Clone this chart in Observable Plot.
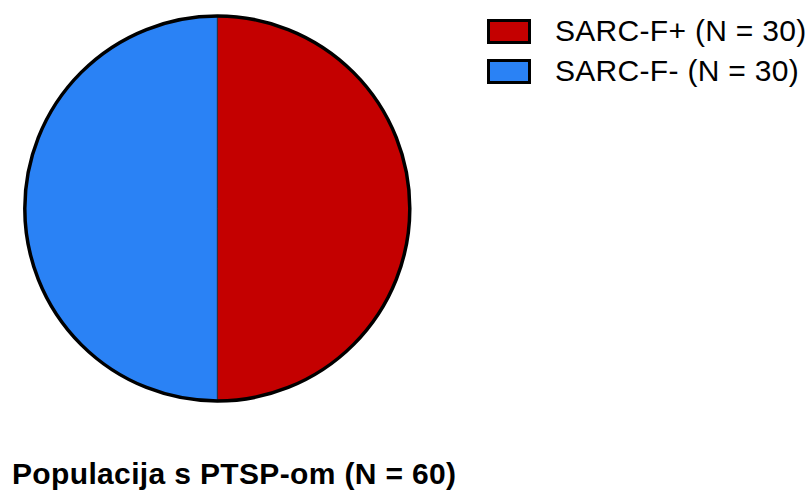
<!DOCTYPE html>
<html>
<head>
<meta charset="utf-8">
<script src="https://cdn.jsdelivr.net/npm/d3@7"></script>
<script src="https://cdn.jsdelivr.net/npm/@observablehq/plot@0.6"></script>
<style>
  html, body { margin: 0; padding: 0; background: #fff; }
  #wrap { position: relative; width: 811px; height: 493px; overflow: hidden; font-family: "Liberation Sans", Arial, sans-serif; }
  #chart { position: absolute; left: 0; top: 0; }
  .leg { position: absolute; left: 487px; height: 40px; }
  .sw { position: absolute; left: 0; top: 3px; width: 38px; height: 19px; border: 3px solid #000; }
  .lab { position: absolute; left: 68px; top: 0; font-size: 30px; line-height: 30px; letter-spacing: 0.3px; white-space: nowrap; color: #000; }
  #title { position: absolute; left: 12px; top: 458.5px; font-size: 30px; line-height: 30px; font-weight: bold; letter-spacing: 0.35px; white-space: nowrap; color: #000; }
</style>
</head>
<body>
<div id="wrap">
  <div id="chart"></div>
  <div id="legend"></div>
  <div id="title"></div>
</div>
<script>
const categories = ["SARC-F+ (N = 30)", "SARC-F- (N = 30)"];
const counts = [30, 30];
const colors = ["#C40000", "#2A82F5"];
const titleText = "Populacija s PTSP-om (N = 60)";

const data = categories.map((c, i) => ({category: c, count: counts[i]}));

// layout constants
const W = 811, H = 430;
const cx = 217.3, cy = 208.5, R = 192.5;

function pieMark(index, scales, values, dimensions, context) {
  const pie = d3.pie().sort(null).startAngle(0).endAngle(2 * Math.PI).value(d => d.count);
  const arcs = pie(data);
  const arc = d3.arc().innerRadius(0).outerRadius(R);
  const g = d3.create("svg:g").attr("transform", `translate(${cx},${cy})`);
  g.selectAll("path.slice")
    .data(arcs)
    .join("path")
    .attr("class", "slice")
    .attr("d", arc)
    .attr("fill", d => scales.color(d.data.category))
    .attr("stroke", "#222")
    .attr("stroke-width", 0.8);
  g.append("circle")
    .attr("r", R)
    .attr("fill", "none")
    .attr("stroke", "#000")
    .attr("stroke-width", 3.5);
  return g.node();
}

const plot = Plot.plot({
  width: W,
  height: H,
  margin: 0,
  x: {axis: null},
  y: {axis: null},
  color: {domain: categories, range: colors},
  marks: [
    pieMark
  ]
});
document.getElementById("chart").appendChild(plot);

// legend
const legend = document.getElementById("legend");
categories.forEach((c, i) => {
  const row = document.createElement("div");
  row.className = "leg";
  row.style.top = (16.3 + i * 40) + "px";
  const sw = document.createElement("div");
  sw.className = "sw";
  sw.style.background = colors[i];
  const lab = document.createElement("div");
  lab.className = "lab";
  lab.textContent = c;
  row.appendChild(sw);
  row.appendChild(lab);
  legend.appendChild(row);
});
document.getElementById("title").textContent = titleText;
</script>
</body>
</html>
